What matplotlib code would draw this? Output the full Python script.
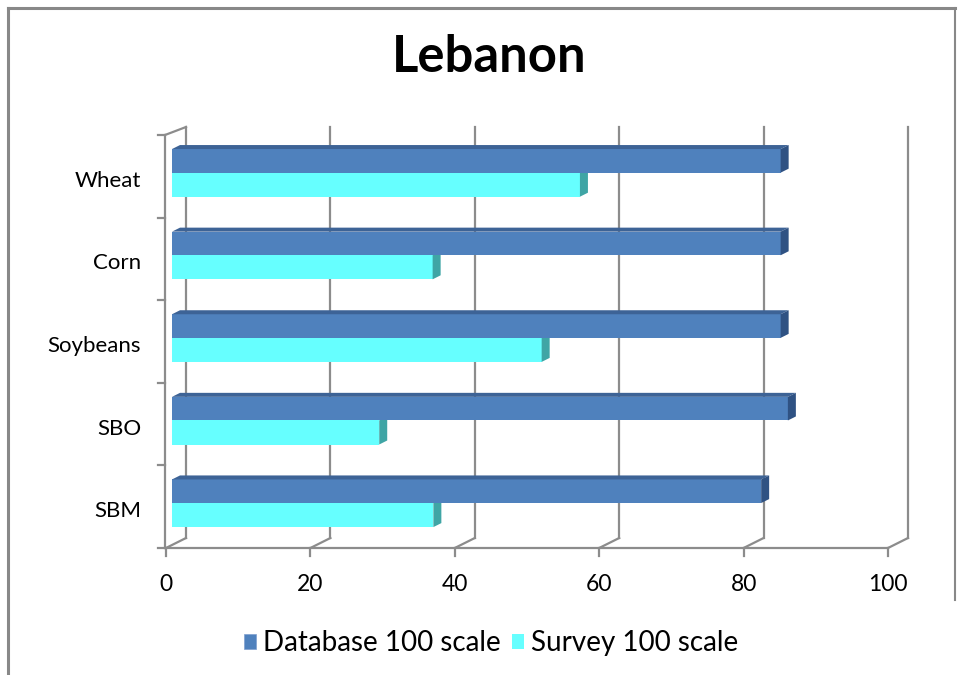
import matplotlib
matplotlib.use("Agg")
import matplotlib.pyplot as plt
from matplotlib.patches import Polygon, Patch
from matplotlib.lines import Line2D

plt.rcParams['font.family'] = ['Lato', 'DejaVu Sans']

categories = ["SBM", "SBO", "Soybeans", "Corn", "Wheat"]
database = [81.6, 85.3, 84.3, 84.3, 84.3]
survey = [36.2, 28.7, 51.2, 36.1, 56.5]
xticks = [0, 20, 40, 60, 80, 100]

W, H = 958, 675
fig = plt.figure(figsize=(W / 100, H / 100), dpi=100)
ax = fig.add_axes([166 / W, (H - 548) / H, (888 - 166) / W, (548 - 135) / H])
ax.set_xlim(0, 100)
ax.set_ylim(0, 5)
for s in ax.spines.values():
    s.set_visible(False)

# pixel sizes in data units
px = 100 / (888 - 166)
py = 5 / (548 - 135)
grid = "#8c8c8c"
lw = 1.6

# back wall + floor gridlines
wdx = 20 * px
for v in xticks:
    ax.plot([v, v + wdx], [0, 10 * py], color=grid, lw=lw, clip_on=False, zorder=1)
    ax.plot([v + wdx, v + wdx], [10 * py, 5 + 8 * py], color=grid, lw=lw,
            clip_on=False, zorder=1)
    ax.plot([v, v], [0, -8 * py], color=grid, lw=lw, clip_on=False, zorder=1)

# front axes
ax.plot([-1 * px, 100], [0, 0], color=grid, lw=lw, clip_on=False, zorder=1)
ax.plot([-1 * px, -1 * px], [0, 5], color=grid, lw=lw, clip_on=False, zorder=1)
ax.plot([-1 * px, wdx], [5, 5 + 8 * py], color=grid, lw=lw, clip_on=False, zorder=1)
for i in range(6):
    ax.plot([-8 * px, -1 * px], [i, i], color=grid, lw=lw, clip_on=False, zorder=1)

# bars
bx = 6 * px
sdx, sdy = 8 * px, 4 * py
db_front, db_top, db_side = "#4f81bd", "#3d6396", "#2f5283"
sv_front, sv_side = "#66ffff", "#3fa5a5"


def bar3d(x0, x1, y0, y1, front, top, side, z):
    ax.add_patch(Polygon([(x0, y0), (x1, y0), (x1, y1), (x0, y1)], closed=True,
                         facecolor=front, edgecolor="none", zorder=z, clip_on=False))
    ax.add_patch(Polygon([(x0, y1), (x1, y1), (x1 + sdx, y1 + sdy), (x0 + sdx, y1 + sdy)],
                         closed=True, facecolor=top, edgecolor="none", zorder=z,
                         clip_on=False))
    ax.add_patch(Polygon([(x1, y0), (x1 + sdx, y0 + sdy), (x1 + sdx, y1 + sdy), (x1, y1)],
                         closed=True, facecolor=side, edgecolor="none", zorder=z,
                         clip_on=False))


for i in range(len(categories)):
    bar3d(bx, bx + survey[i], i + 0.253, i + 0.544, sv_front, sv_front, sv_side, 3)
    bar3d(bx, bx + database[i], i + 0.544, i + 0.83, db_front, db_top, db_side, 4)

ax.set_xticks(xticks)
ax.set_xticklabels([str(v) for v in xticks])
ax.set_yticks([i + 0.47 for i in range(len(categories))])
ax.set_yticklabels(categories)
ax.tick_params(axis='x', length=0, pad=19, labelsize=16.5)
ax.tick_params(axis='y', length=0, pad=18, labelsize=16)

fig.text(489 / W, 1 - 58 / H, "Lebanon", ha="center", va="center",
         fontsize=36.5, fontweight="bold")

handles = [Patch(facecolor=db_front, edgecolor="#7f9fcf", lw=0.5),
           Patch(facecolor=sv_front, edgecolor="none")]
fig.legend(handles, ["Database 100 scale", "Survey 100 scale"], loc="center",
           bbox_to_anchor=(491 / W, 1 - 643 / H), ncol=2, frameon=False,
           fontsize=20, handlelength=0.45, handleheight=0.45, handletextpad=0.25,
           columnspacing=0.4)

# outer border
bc = "#888888"
fig.add_artist(Line2D([8 / W, 8 / W], [0, 1 - 8 / H], color=bc, lw=2.2))
fig.add_artist(Line2D([8 / W, 955 / W], [1 - 8 / H, 1 - 8 / H], color=bc, lw=2.2))
fig.add_artist(Line2D([955 / W, 955 / W], [1 - 8 / H, 1 - 600 / H], color=bc, lw=1.5))

fig.savefig("out.png", dpi=100)
